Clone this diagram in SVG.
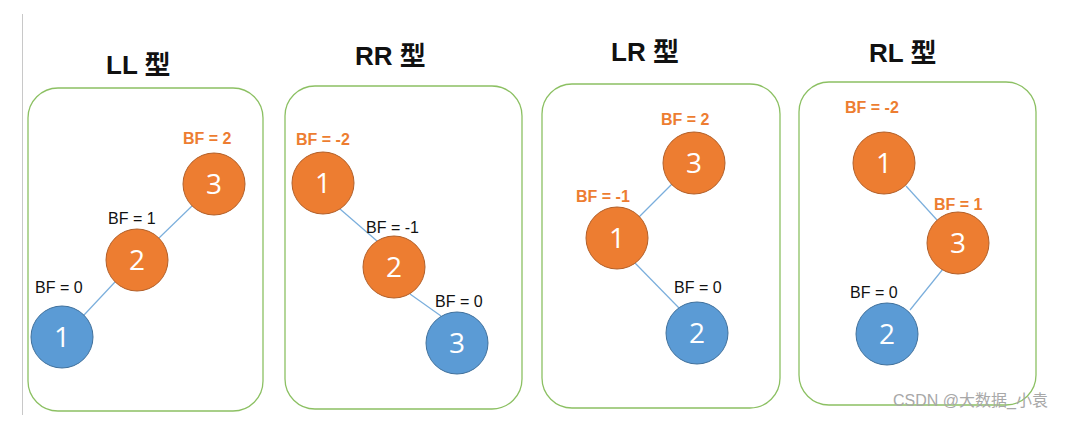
<svg xmlns="http://www.w3.org/2000/svg" width="1070" height="444" viewBox="0 0 1070 444">
<style>
.bg{fill:#ffffff}
.box{fill:none;stroke:#8cc063;stroke-width:1.3}
.title{font-family:"Liberation Sans","Noto Sans CJK SC",sans-serif;font-weight:bold;font-size:26px;fill:#111}
.o{fill:#ED7D31;stroke:#B2602A;stroke-width:1}
.b{fill:#5B9BD5;stroke:#41719C;stroke-width:1}
.num{font-family:"Open Sans","Liberation Sans",sans-serif;font-size:28px;fill:#fff;text-anchor:middle}
.bf{font-family:"Liberation Sans",sans-serif;font-size:16px;fill:#111}
.bfo{font-family:"Liberation Sans",sans-serif;font-size:16px;font-weight:bold;fill:#ED7D31}
.edge{stroke:#7aaedc;stroke-width:1.2;fill:none}
.wm{font-family:"Liberation Sans","Noto Sans CJK SC",sans-serif;font-size:16px;fill:#a8a8a8}
</style>
<rect class="bg" x="0" y="0" width="1070" height="444"/>
<line x1="22.5" y1="14" x2="22.5" y2="415" stroke="#c8c8c8" stroke-width="1"/>

<g id="panel-LL">
<rect class="box" x="28" y="88" width="235" height="323" rx="30"/>
<text class="title" x="106" y="74">LL 型</text>
</g>
<g id="panel-RR">
<rect class="box" x="285" y="86" width="237" height="323" rx="30"/>
<text class="title" x="355" y="65">RR 型</text>
</g>
<g id="panel-LR">
<rect class="box" x="542" y="84" width="238" height="324" rx="30"/>
<text class="title" x="611" y="61">LR 型</text>
</g>
<g id="panel-RL">
<rect class="box" x="799" y="82" width="237" height="323" rx="30"/>
<text class="title" x="869" y="62">RL 型</text>
</g>

<g id="connectors">
<line class="edge" x1="192" y1="206" x2="159" y2="238"/>
<line class="edge" x1="115" y1="282" x2="84" y2="315"/>
<line class="edge" x1="340" y1="209" x2="377" y2="241"/>
<line class="edge" x1="410" y1="294" x2="441" y2="316"/>
<line class="edge" x1="672" y1="184" x2="639" y2="217"/>
<line class="edge" x1="635" y1="263" x2="679" y2="308"/>
<line class="edge" x1="906" y1="186" x2="937" y2="220"/>
<line class="edge" x1="943" y1="269" x2="910" y2="310"/>
</g>

<g id="LL-3"><circle class="o" cx="214" cy="184" r="31"/><text class="num" x="214" y="194">3</text><text class="bfo" x="183" y="144">BF = 2</text></g>
<g id="LL-2"><circle class="o" cx="137" cy="260" r="31"/><text class="num" x="137" y="270">2</text><text class="bf" x="108" y="224">BF = 1</text></g>
<g id="LL-1"><circle class="b" cx="62" cy="337" r="31"/><text class="num" x="62" y="347">1</text><text class="bf" x="35" y="293">BF = 0</text></g>

<g id="RR-1"><circle class="o" cx="323" cy="183" r="31"/><text class="num" x="323" y="193">1</text><text class="bfo" x="296" y="145">BF = -2</text></g>
<g id="RR-2"><circle class="o" cx="394" cy="267" r="31"/><text class="num" x="394" y="277">2</text><text class="bf" x="366" y="233">BF = -1</text></g>
<g id="RR-3"><circle class="b" cx="457" cy="343" r="31"/><text class="num" x="457" y="353">3</text><text class="bf" x="435" y="307">BF = 0</text></g>

<g id="LR-3"><circle class="o" cx="694" cy="163" r="31"/><text class="num" x="694" y="173">3</text><text class="bfo" x="661" y="125">BF = 2</text></g>
<g id="LR-1"><circle class="o" cx="617" cy="238" r="31"/><text class="num" x="617" y="248">1</text><text class="bfo" x="576" y="202">BF = -1</text></g>
<g id="LR-2"><circle class="b" cx="697" cy="333" r="31"/><text class="num" x="697" y="343">2</text><text class="bf" x="674" y="293">BF = 0</text></g>

<g id="RL-1"><circle class="o" cx="884" cy="163" r="31"/><text class="num" x="884" y="173">1</text><text class="bfo" x="845" y="113">BF = -2</text></g>
<g id="RL-3"><circle class="o" cx="958" cy="243" r="31"/><text class="num" x="958" y="253">3</text><text class="bfo" x="934" y="210">BF = 1</text></g>
<g id="RL-2"><circle class="b" cx="887" cy="334" r="31"/><text class="num" x="887" y="344">2</text><text class="bf" x="850" y="298">BF = 0</text></g>

<text class="wm" x="893" y="406">CSDN @大数据_小袁</text>
</svg>
